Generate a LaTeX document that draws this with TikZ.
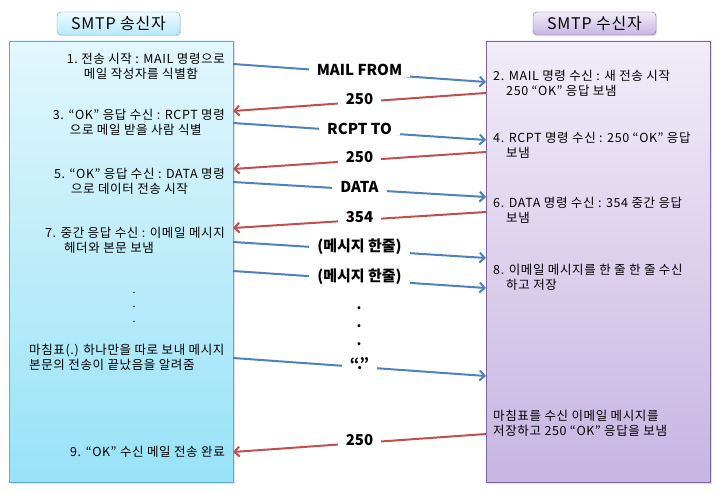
\documentclass[tikz,border=0pt]{standalone}
\usepackage{fontspec}
\setmainfont{Noto Sans CJK KR}
\newfontfamily\bodyfont{Noto Sans CJK KR}[LetterSpace=5]
\usetikzlibrary{arrows.meta,shadows}
\definecolor{sndtop}{HTML}{E2F7FD}
\definecolor{sndbot}{HTML}{98E2F7}
\definecolor{sndline}{HTML}{5DAFC9}
\definecolor{rcvtop}{HTML}{F1ECF8}
\definecolor{rcvbot}{HTML}{C7B5E2}
\definecolor{rcvline}{HTML}{8064A2}
\definecolor{fwdblue}{HTML}{4F81BD}
\definecolor{bwdred}{HTML}{C0504D}

\begin{document}
\begin{tikzpicture}[x=1pt, y=-1pt,
  sndbox/.style={draw=sndline, top color=sndtop, bottom color=sndbot,
                 minimum width=224pt, minimum height=441pt, line width=0.8pt,
                 drop shadow={opacity=0.25, shadow xshift=1.5pt, shadow yshift=-1.5pt}},
  rcvbox/.style={draw=rcvline, top color=rcvtop, bottom color=rcvbot,
                 minimum width=224pt, minimum height=441pt, line width=0.8pt,
                 drop shadow={opacity=0.25, shadow xshift=1.5pt, shadow yshift=-1.5pt}},
  shead/.style={draw=sndline, rounded corners=4pt, top color=sndtop!60, bottom color=sndbot!70,
                minimum width=123pt, minimum height=23pt, font=\bodyfont\fontsize{16}{18}\selectfont,
                drop shadow={opacity=0.25, shadow xshift=1pt, shadow yshift=-1pt}},
  rhead/.style={draw=rcvline, rounded corners=4pt, top color=rcvtop, bottom color=rcvbot,
                minimum width=123pt, minimum height=23pt, font=\bodyfont\fontsize{16}{18}\selectfont,
                drop shadow={opacity=0.25, shadow xshift=1pt, shadow yshift=-1pt}},
  stxt/.style={align=left, anchor=east, inner sep=1pt, font=\bodyfont\fontsize{12.5}{15}\selectfont},
  rtxt/.style={align=left, anchor=west, inner sep=1pt, font=\bodyfont\fontsize{12.5}{15}\selectfont},
  fwd/.style={draw=fwdblue, line width=2pt, -{Straight Barb[length=5pt,width=10pt]}},
  bwd/.style={draw=bwdred, line width=2pt, -{Straight Barb[length=5pt,width=10pt]}},
  lbl/.style={fill=white, inner xsep=8pt, inner ysep=1pt, yshift=3pt,
              font=\fontsize{15}{16}\selectfont\bfseries},
]
\useasboundingbox (0,0) rectangle (719,492);

\node[sndbox] (snd) at (121,261.5) {};
\node[rcvbox] (rcv) at (598,261.5) {};
\node[shead] (sndhead) at (118.5,23.5) {SMTP 송신자};
\node[rhead] (rcvhead) at (594.5,23.5) {SMTP 수신자};

\node[stxt] (s1) at (226,66.5)
  {1.\ 전송 시작 : MAIL 명령으로\\\hspace*{17pt}메일 작성자를 식별함};
\node[stxt] (s3) at (226,122.5)
  {3. “OK” 응답 수신 : RCPT 명령\\\hspace*{17pt}으로 메일 받을 사람 식별};
\node[stxt] (s5) at (226,181.5)
  {5. “OK” 응답 수신 : DATA 명령\\\hspace*{17pt}으로 데이터 전송 시작};
\node[stxt] (s7) at (226,240.5)
  {7. 중간 응답 수신 : 이메일 메시지\\\hspace*{19pt}헤더와 본문 보냄};
\node[align=center, font=\fontsize{10.5}{14.5}\selectfont] (sdots) at (134,307) {.\\.\\.};
\node[rtxt] (send) at (28,357.5)
  {마침표(.) 하나만을 따로 보내 메시지\\본문의 전송이 끝났음을 알려줌};
\node[stxt] (s9) at (226,452) {9. “OK” 수신 메일 전송 완료};

\node[rtxt] (r2) at (492,83)
  {2. MAIL 명령 수신 : 새 전송 시작\\\hspace*{13pt}250 “OK” 응답 보냄};
\node[rtxt] (r4) at (492,145.5)
  {4. RCPT 명령 수신 : 250 “OK” 응답\\\hspace*{13pt}보냄};
\node[rtxt] (r6) at (492,210.5)
  {6. DATA 명령 수신 : 354 중간 응답\\\hspace*{13pt}보냄};
\node[rtxt] (r8) at (492,277.5)
  {8. 이메일 메시지를 한 줄 한 줄 수신\\\hspace*{13pt}하고 저장};
\node[rtxt] (rend) at (492,423.5)
  {마침표를 수신 이메일 메시지를\\저장하고 250 “OK” 응답을 보냄};

\coordinate (a1) at (233,64);  \coordinate (b1) at (486,82);
\coordinate (b2) at (486,93);  \coordinate (a2) at (233,111);
\coordinate (a3) at (233,123); \coordinate (b3) at (486,140);
\coordinate (b4) at (486,152); \coordinate (a4) at (233,169);
\coordinate (a5) at (233,182); \coordinate (b5) at (486,197);
\coordinate (b6) at (486,212); \coordinate (a6) at (233,228);
\coordinate (a7) at (233,242); \coordinate (b7) at (486,258);
\coordinate (a8) at (233,271); \coordinate (b8) at (486,288);
\coordinate (a9) at (233,358); \coordinate (b9) at (486,376);
\coordinate (b10) at (486,434); \coordinate (a10) at (233,452);

\draw[fwd] (a1) -- node[lbl] {MAIL FROM} (b1);
\draw[bwd] (b2) -- node[lbl] {250} (a2);
\draw[fwd] (a3) -- node[lbl] {RCPT TO} (b3);
\draw[bwd] (b4) -- node[lbl] {250} (a4);
\draw[fwd] (a5) -- node[lbl] {DATA} (b5);
\draw[bwd] (b6) -- node[lbl] {354} (a6);
\draw[fwd] (a7) -- node[lbl] {(메시지 한줄)} (b7);
\draw[fwd] (a8) -- node[lbl] {(메시지 한줄)} (b8);
\node[align=center, font=\fontsize{14}{18}\selectfont\bfseries] (mdots) at (359,326) {.\\.\\.};
\draw[fwd] (a9) -- node[lbl] {“.”} (b9);
\draw[bwd] (b10) -- node[lbl] {250} (a10);
\end{tikzpicture}
\end{document}
